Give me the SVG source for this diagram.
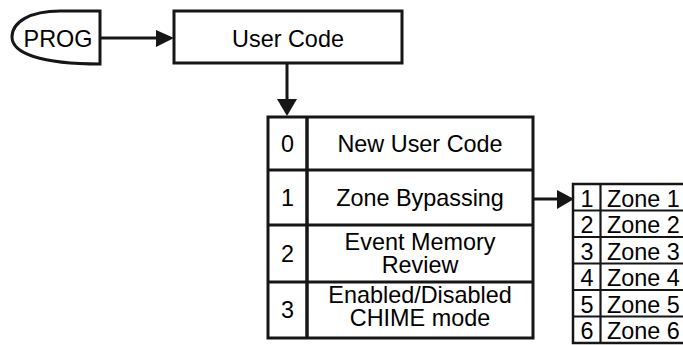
<svg xmlns="http://www.w3.org/2000/svg" width="683" height="345" viewBox="0 0 683 345">
<defs>
<style>
.ln{fill:none;stroke:#161616;stroke-width:3}
.bx{fill:#fff;stroke:#161616;stroke-width:3}
.zb{fill:#fff;stroke:#161616;stroke-width:2.5}
.zl{fill:none;stroke:#161616;stroke-width:2.2}
.t{font-family:"Liberation Sans",Arial,sans-serif;font-size:23.4px;fill:#000;text-anchor:middle}
.z{font-family:"Liberation Sans",Arial,sans-serif;font-size:23.4px;fill:#000}
.zd{font-family:"Liberation Sans",Arial,sans-serif;font-size:23.4px;fill:#000;text-anchor:middle}
.ah{fill:#161616}
</style>
</defs>
<rect width="683" height="345" fill="#fff"/>
<g id="connectors">
<line class="ln" x1="100" y1="38" x2="158" y2="38"/>
<polygon class="ah" points="156,30 174,38 156,47"/>
<line class="ln" x1="287" y1="63" x2="287" y2="101"/>
<polygon class="ah" points="277,99 297,99 287,116"/>
<line class="ln" x1="533" y1="199" x2="559" y2="199"/>
<polygon class="ah" points="557,190 574,199 557,209"/>
</g>
<g id="prog">
<path class="bx" d="M100,11 L60,11 C30,11 12,22 12,37 C12,53 40,64 100,64 Z"/>
<text class="t" x="58" y="47">PROG</text>
</g>
<g id="user-code">
<rect class="bx" x="174" y="11" width="228" height="52"/>
<text class="t" x="288" y="47">User Code</text>
</g>
<g id="menu">
<rect class="bx" x="268" y="117" width="265" height="221"/>
<line class="ln" x1="307" y1="117" x2="307" y2="338" style="stroke-width:3.5"/>
<line class="ln" x1="268" y1="170" x2="533" y2="170"/>
<line class="ln" x1="268" y1="225" x2="533" y2="225"/>
<line class="ln" x1="268" y1="282" x2="533" y2="282"/>
</g>
<g id="menu-0">
<text class="t" x="287.5" y="152">0</text>
<text class="t" x="420" y="152">New User Code</text>
</g>
<g id="menu-1">
<text class="t" x="287.5" y="206">1</text>
<text class="t" x="420" y="206">Zone Bypassing</text>
</g>
<g id="menu-2">
<text class="t" x="287.5" y="262">2</text>
<text class="t" x="420" y="250">Event Memory</text>
<text class="t" x="420" y="273">Review</text>
</g>
<g id="menu-3">
<text class="t" x="287.5" y="318">3</text>
<text class="t" x="420" y="303">Enabled/Disabled</text>
<text class="t" x="420" y="326">CHIME mode</text>
</g>
<g id="zones">
<rect class="zb" x="573" y="184" width="130" height="159"/>
<line class="zl" x1="600.5" y1="184" x2="600.5" y2="343"/>
<line class="zl" x1="573" y1="210.5" x2="703" y2="210.5"/>
<line class="zl" x1="573" y1="237" x2="703" y2="237"/>
<line class="zl" x1="573" y1="263.5" x2="703" y2="263.5"/>
<line class="zl" x1="573" y1="290" x2="703" y2="290"/>
<line class="zl" x1="573" y1="316.5" x2="703" y2="316.5"/>
<g id="zone-1"><text class="zd" x="587" y="206.5">1</text><text class="z" x="607" y="206.5">Zone 1</text></g>
<g id="zone-2"><text class="zd" x="587" y="233">2</text><text class="z" x="607" y="233">Zone 2</text></g>
<g id="zone-3"><text class="zd" x="587" y="259.5">3</text><text class="z" x="607" y="259.5">Zone 3</text></g>
<g id="zone-4"><text class="zd" x="587" y="286">4</text><text class="z" x="607" y="286">Zone 4</text></g>
<g id="zone-5"><text class="zd" x="587" y="312.5">5</text><text class="z" x="607" y="312.5">Zone 5</text></g>
<g id="zone-6"><text class="zd" x="587" y="339">6</text><text class="z" x="607" y="339">Zone 6</text></g>
</g>
</svg>
